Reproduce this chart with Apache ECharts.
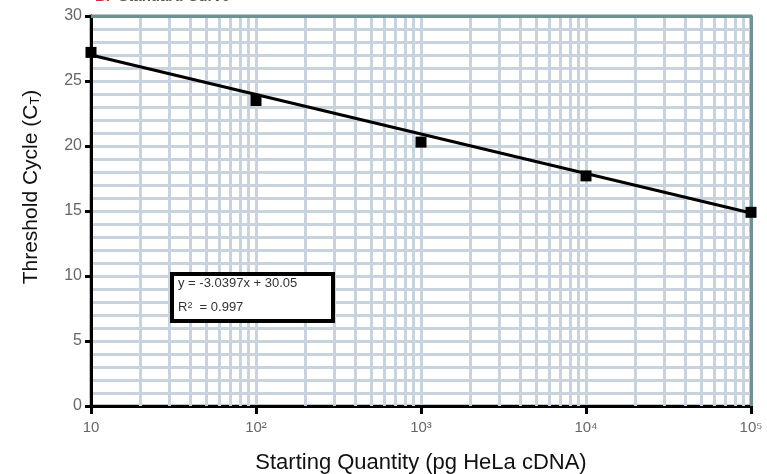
<!DOCTYPE html>
<html><head><meta charset="utf-8">
<script src="https://cdn.jsdelivr.net/npm/echarts@6/dist/echarts.min.js"></script>
<style>html,body{margin:0;padding:0;background:#fff}#c{width:767px;height:474px}</style>
</head><body><div id="c"></div>
<script>
// Data
var quantities = [10, 100, 1000, 10000, 100000];
var ctValues = [27.2, 23.5, 20.3, 17.7, 14.9];
var fitX = [10, 100000];
var fitY = [27.0, 14.85];
var xTickValues = [10, 100, 1000, 10000, 100000];
var xTickLabels = ['10', '10\u00b2', '10\u00b3', '10\u2074', '10\u2075'];
var equationText = 'y = -3.0397x + 30.05';
var r2Text = '0.997';

var minorX = [];
for (var d = 10; d < 100000; d *= 10) {
  for (var k = 2; k <= 9; k++) minorX.push({xAxis: d * k});
}

var chart = echarts.init(document.getElementById('c'), null, {renderer: 'canvas'});
var gridColor = '#c8d3dd';
var frameColor = '#6f9191';
var font = 'Arial, "Liberation Sans", sans-serif';
chart.setOption({
  animation: false,
  backgroundColor: '#fff',
  title: {
    text: '{r|B.}  Standard Curve',
    left: 90, top: -16,
    textStyle: {fontFamily: font, fontSize: 15, fontWeight: 'bold', color: '#555',
      rich: {r: {fontFamily: font, fontSize: 15, fontWeight: 'bold', color: '#e0202a'}}}
  },
  grid: {left: 91, right: 16, top: 16, bottom: 68, show: true, containLabel: false,
    outerBoundsMode: 'none',
    borderColor: frameColor, borderWidth: 3, backgroundColor: 'transparent'},
  xAxis: {
    type: 'log', logBase: 10, min: 10, max: 100000,
    name: 'Starting Quantity (pg HeLa cDNA)', nameLocation: 'middle', nameGap: 46,
    nameTextStyle: {fontFamily: font, fontSize: 22, color: '#111'},
    axisLine: {show: true, onZero: false, lineStyle: {color: '#000', width: 3}},
    axisTick: {show: true, length: 8, lineStyle: {color: '#000', width: 3}},
    axisLabel: {fontFamily: font, fontSize: 15, color: '#666', margin: 14,
      formatter: function (v) {
        var i = xTickValues.indexOf(Math.round(v));
        return i >= 0 ? xTickLabels[i] : '';
      }},
    splitLine: {show: true, lineStyle: {color: gridColor, width: 3}}
  },
  yAxis: {
    type: 'value', min: 0, max: 30, interval: 5,
    axisLine: {show: true, lineStyle: {color: '#000', width: 3}},
    axisTick: {show: true, length: 6, lineStyle: {color: '#000', width: 3}},
    axisLabel: {fontFamily: font, fontSize: 16, color: '#666', margin: 9},
    splitLine: {show: true, lineStyle: {color: gridColor, width: 3}},
    minorTick: {show: false, splitNumber: 5},
    minorSplitLine: {show: true, lineStyle: {color: gridColor, width: 3}}
  },
  graphic: [
    {type: 'text', rotation: Math.PI / 2, x: 21, y: 187,
      style: {text: 'Threshold Cycle (C{s|T})', font: '21px Arial, "Liberation Sans", sans-serif',
        fill: '#111', align: 'center', verticalAlign: 'top',
        rich: {s: {fontSize: 13, fontFamily: font, fill: '#111', verticalAlign: 'bottom'}}}, z: 10},
    {type: 'rect', shape: {x: 172, y: 274, width: 161, height: 47}, z: 20,
      style: {fill: '#fff', stroke: '#000', lineWidth: 4}},
    {type: 'text', x: 178, y: 277, z: 21,
      style: {text: equationText, font: '13px Arial, "Liberation Sans", sans-serif', fill: '#333'}},
    {type: 'text', x: 178, y: 301, z: 21,
      style: {text: 'R{s|2}  = ' + r2Text, font: '13px Arial, "Liberation Sans", sans-serif', fill: '#333',
        rich: {s: {fontSize: 9, fontFamily: font, fill: '#333', verticalAlign: 'top'}}}}
  ],
  series: [
    {type: 'line', data: [], silent: true,
      markLine: {silent: true, symbol: 'none', label: {show: false},
        lineStyle: {color: gridColor, width: 3, type: 'solid'}, data: minorX, animation: false}},
    {type: 'line', data: [], silent: true, z: 3,
      markLine: {silent: true, symbol: 'none', label: {show: false},
        lineStyle: {color: frameColor, width: 3, type: 'solid'},
        data: [{yAxis: 30}, {xAxis: 100000}], animation: false}},
    {type: 'line', data: fitX.map(function (x, i) { return [x, fitY[i]]; }),
      showSymbol: false, symbol: 'none', lineStyle: {color: '#000', width: 3}, z: 5},
    {type: 'scatter', data: quantities.map(function (x, i) { return [x, ctValues[i]]; }),
      symbol: 'rect', symbolSize: 11, itemStyle: {color: '#000', opacity: 1}, z: 6, clip: false}
  ]
});
</script></body></html>
